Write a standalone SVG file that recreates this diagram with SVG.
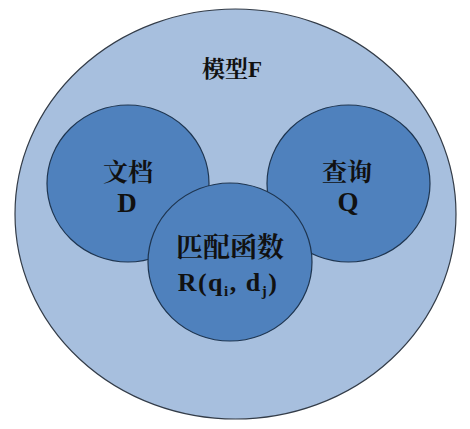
<svg xmlns="http://www.w3.org/2000/svg" width="470" height="429" viewBox="0 0 470 429">
<style>
.outer{fill:#a7bfde;stroke:#333c48;stroke-width:1.2}
.inner{fill:#4f81bd;stroke:#1e3550;stroke-width:1.2}
.t{font-family:"Liberation Serif","Noto Serif CJK SC","Noto Sans CJK SC",serif;font-weight:bold;fill:#111;text-anchor:middle}
</style>
<rect width="470" height="429" fill="#ffffff"/>
<g id="model">
<ellipse class="outer" cx="235.5" cy="214" rx="220.5" ry="205"/>
<text class="t" x="232" y="77" font-size="23">模型F</text>
</g>
<g id="doc">
<ellipse class="inner" cx="128" cy="183.5" rx="81" ry="78.5"/>
<text class="t" x="128" y="181" font-size="25">文档</text>
<text class="t" x="127" y="212" font-size="27">D</text>
</g>
<g id="query">
<ellipse class="inner" cx="348.5" cy="183.5" rx="81.5" ry="78.5"/>
<text class="t" x="347" y="181" font-size="25">查询</text>
<text class="t" x="348" y="211" font-size="27">Q</text>
</g>
<g id="match">
<ellipse class="inner" cx="230" cy="262" rx="82" ry="79"/>
<text class="t" x="230" y="257" font-size="27">匹配函数</text>
<text class="t" x="228" y="291" font-size="26" letter-spacing="1.5">R(q<tspan font-size="15" dy="5">i</tspan><tspan dy="-5">, d</tspan><tspan font-size="15" dy="5">j</tspan><tspan dy="-5">)</tspan></text>
</g>
<g id="connectors"></g>
</svg>
